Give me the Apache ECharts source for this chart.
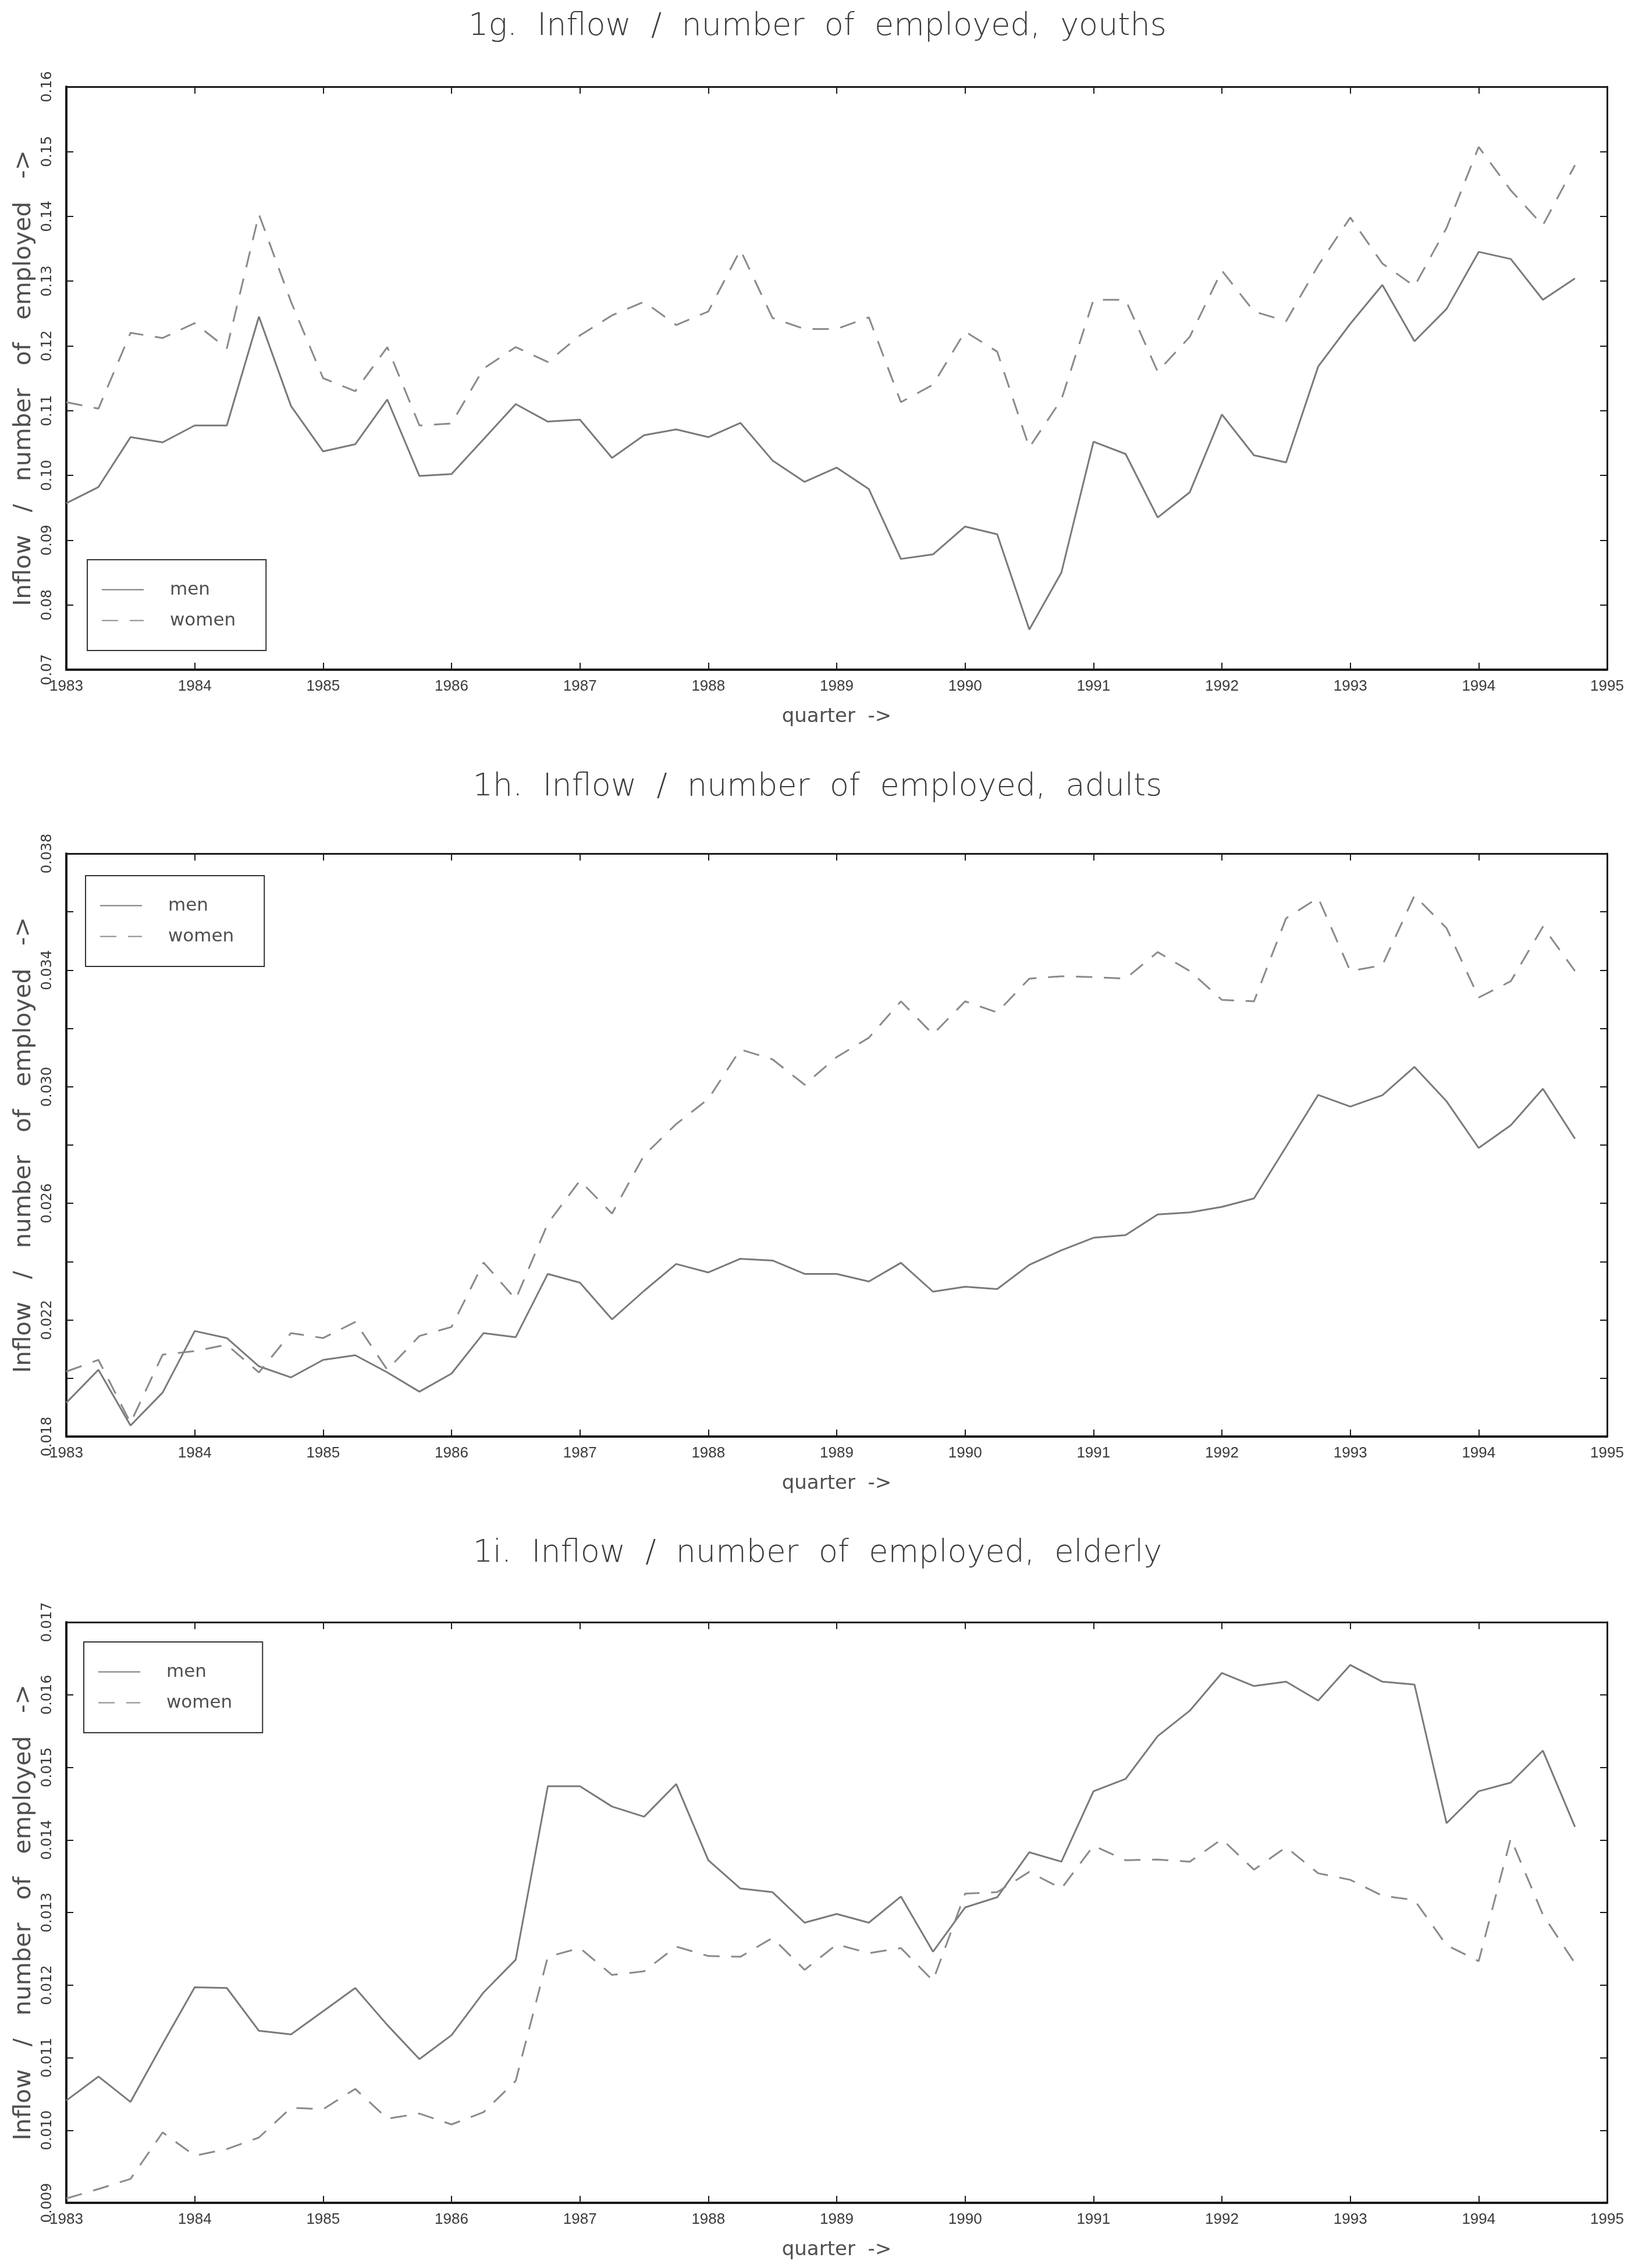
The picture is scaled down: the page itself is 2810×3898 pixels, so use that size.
<!DOCTYPE html>
<html>
<head>
<meta charset="utf-8">
<title>Inflow / number of employed</title>
<script src="https://cdn.jsdelivr.net/npm/echarts@6/dist/echarts.min.js"></script>
<style>
  html, body { margin: 0; padding: 0; background: #ffffff; }
  #chart { width: 2810px; height: 3898px; }
</style>
</head>
<body>
<div id="chart"></div>
<script>
// Quarterly observations, 1983 Q1 .. 1994 Q4
const quarters = [];
for (let i = 0; i < 48; i++) quarters.push(1983 + i / 4);

const yearLabels = ['1983', '1984', '1985', '1986', '1987', '1988', '1989',
                    '1990', '1991', '1992', '1993', '1994', '1995'];

// 1g. youths
const youthMen = [0.0957, 0.0982, 0.1059, 0.1051, 0.1077, 0.1077, 0.1245, 0.1107,
  0.1037, 0.1048, 0.1117, 0.0999, 0.1002, 0.1056, 0.1110, 0.1083,
  0.1086, 0.1027, 0.1062, 0.1071, 0.1059, 0.1081, 0.1023, 0.0990,
  0.1012, 0.0979, 0.0871, 0.0878, 0.0921, 0.0909, 0.0762, 0.0850,
  0.1052, 0.1033, 0.0935, 0.0974, 0.1094, 0.1031, 0.1020, 0.1168,
  0.1234, 0.1294, 0.1207, 0.1257, 0.1345, 0.1334, 0.1271, 0.1304];
const youthWomen = [0.1113, 0.1103, 0.1220, 0.1212, 0.1235, 0.1196, 0.1403, 0.1268,
  0.1150, 0.1130, 0.1198, 0.1077, 0.1080, 0.1165, 0.1198, 0.1175,
  0.1216, 0.1247, 0.1268, 0.1232, 0.1253, 0.1348, 0.1243, 0.1226,
  0.1226, 0.1244, 0.1113, 0.1140, 0.1222, 0.1191, 0.1043, 0.1117,
  0.1271, 0.1271, 0.1160, 0.1214, 0.1316, 0.1253, 0.1238, 0.1324,
  0.1398, 0.1327, 0.1292, 0.1382, 0.1507, 0.1440, 0.1386, 0.1479];
const youthTickLabels = ['0.07', '0.08', '0.09', '0.10', '0.11', '0.12', '0.13', '0.14', '0.15', '0.16'];

// 1h. adults
const adultMen = [0.01916, 0.02029, 0.01838, 0.01951, 0.02162, 0.02138, 0.02041, 0.02003,
  0.02063, 0.02079, 0.02020, 0.01954, 0.02016, 0.02155, 0.02141, 0.02358,
  0.02328, 0.02202, 0.02300, 0.02392, 0.02363, 0.02410, 0.02404, 0.02358,
  0.02358, 0.02332, 0.02396, 0.02297, 0.02314, 0.02306, 0.02389, 0.02439,
  0.02482, 0.02491, 0.02562, 0.02569, 0.02588, 0.02617, 0.02794, 0.02972,
  0.02932, 0.02971, 0.03068, 0.02950, 0.02790, 0.02868, 0.02993, 0.02822];
const adultWomen = [0.02023, 0.02063, 0.01847, 0.02081, 0.02093, 0.02115, 0.02020, 0.02155,
  0.02138, 0.02193, 0.02029, 0.02145, 0.02176, 0.02397, 0.02271, 0.02531,
  0.02678, 0.02565, 0.02765, 0.02872, 0.02958, 0.03128, 0.03094, 0.03007,
  0.03102, 0.03168, 0.03293, 0.03180, 0.03293, 0.03255, 0.03371, 0.03379,
  0.03376, 0.03371, 0.03462, 0.03397, 0.03298, 0.03293, 0.03578, 0.03648,
  0.03397, 0.03417, 0.03656, 0.03544, 0.03306, 0.03362, 0.03549, 0.03397];
const adultTickLabels = ['0.018', '0.022', '0.026', '0.030', '0.034', '0.038'];

// 1i. elderly
const elderlyMen = [0.01041, 0.01074, 0.01039, 0.01119, 0.01197, 0.01196, 0.01137, 0.01132,
  0.01164, 0.01196, 0.01145, 0.01098, 0.01131, 0.01190, 0.01235, 0.01474,
  0.01474, 0.01446, 0.01432, 0.01477, 0.01372, 0.01333, 0.01328, 0.01286,
  0.01298, 0.01286, 0.01322, 0.01246, 0.01307, 0.01321, 0.01383, 0.01370,
  0.01467, 0.01484, 0.01543, 0.01578, 0.01630, 0.01612, 0.01618, 0.01592,
  0.01641, 0.01618, 0.01614, 0.01423, 0.01467, 0.01479, 0.01523, 0.01418];
const elderlyWomen = [0.00906, 0.00919, 0.00933, 0.00997, 0.00965, 0.00974, 0.00990, 0.01031,
  0.01029, 0.01057, 0.01016, 0.01023, 0.01008, 0.01025, 0.01068, 0.01239,
  0.01251, 0.01214, 0.01219, 0.01253, 0.01240, 0.01239, 0.01265, 0.01221,
  0.01256, 0.01244, 0.01251, 0.01206, 0.01326, 0.01328, 0.01356, 0.01333,
  0.01392, 0.01372, 0.01373, 0.01370, 0.01401, 0.01359, 0.01390, 0.01354,
  0.01345, 0.01323, 0.01317, 0.01255, 0.01233, 0.01402, 0.01297, 0.01230];
const elderlyTickLabels = ['0.009', '0.010', '0.011', '0.012', '0.013', '0.014', '0.015', '0.016', '0.017'];

const seriesNames = ['men', 'women'];
const yAxisTitle = 'Inflow   /   number   of   employed   ->';
const xAxisTitle = 'quarter  ->';

const panels = [
  { title: '1g.  Inflow  /  number  of  employed,  youths', men: youthMen, women: youthWomen,
    min: 0.07, max: 0.16, step: 0.01, labels: youthTickLabels,
    top: 149, height: 1002, titleTop: 19, titleShift: 96, legendLeft: 150, legendTop: 962 },
  { title: '1h.  Inflow  /  number  of  employed,  adults', men: adultMen, women: adultWomen,
    min: 0.018, max: 0.038, step: 0.002, labels: adultTickLabels,
    top: 1467, height: 1002, titleTop: 1326, titleShift: 80, legendLeft: 147, legendTop: 1505 },
  { title: '1i.  Inflow  /  number  of  employed,  elderly', men: elderlyMen, women: elderlyWomen,
    min: 0.009, max: 0.017, step: 0.001, labels: elderlyTickLabels,
    top: 2788, height: 998, titleTop: 2643, titleShift: 84, legendLeft: 144, legendTop: 2822 }
];

const INK = '#1a1a1a';
const MEN_GREY = '#7a7a7a';
const WOMEN_GREY = '#8a8a8a';
const GRID_LEFT = 114;
const GRID_WIDTH = 2648;

const option = {
  backgroundColor: '#ffffff',
  animation: false,
  title: [], grid: [], xAxis: [], yAxis: [], series: [], legend: []
};

function labelFor(list) {
  return function (v) {
    for (const s of list) {
      if (Math.abs(parseFloat(s) - v) < 1e-7) return s;
    }
    return '';
  };
}

panels.forEach(function (p, k) {
  option.title.push({
    text: p.title,
    left: 'center',
    top: p.titleTop,
    padding: [0, 0, 0, p.titleShift],
    textStyle: { fontFamily: 'DejaVu Sans', fontWeight: 300, fontSize: 54, color: '#3c3c3c' }
  });

  option.grid.push({ left: GRID_LEFT, width: GRID_WIDTH, top: p.top, height: p.height });

  // bottom axis with year labels
  option.xAxis.push({
    type: 'value', gridIndex: k, position: 'bottom',
    min: 1983, max: 1995, interval: 1,
    name: xAxisTitle, nameLocation: 'middle', nameGap: 64,
    nameTextStyle: { fontFamily: 'DejaVu Sans', fontSize: 34, color: '#505050' },
    axisLine: { show: true, onZero: false, lineStyle: { color: INK, width: 4 } },
    axisTick: { show: true, inside: true, length: 12, lineStyle: { color: INK, width: 2 } },
    axisLabel: {
      show: true, margin: 16, fontFamily: 'Liberation Sans Narrow, Liberation Sans',
      fontSize: 26, color: '#3a3a3a',
      formatter: function (v) { return yearLabels[Math.round(v - 1983)]; }
    },
    splitLine: { show: false }
  });
  // top frame edge
  option.xAxis.push({
    type: 'value', gridIndex: k, position: 'top',
    min: 1983, max: 1995, interval: 1,
    axisLine: { show: true, onZero: false, lineStyle: { color: INK, width: 3 } },
    axisTick: { show: true, inside: true, length: 12, lineStyle: { color: INK, width: 2 } },
    axisLabel: { show: false },
    splitLine: { show: false }
  });

  // left axis with rotated tick labels
  option.yAxis.push({
    type: 'value', gridIndex: k, position: 'left',
    min: p.min, max: p.max, interval: p.step,
    name: yAxisTitle, nameLocation: 'middle', nameGap: 50, nameRotate: 90,
    nameTextStyle: { fontFamily: 'DejaVu Sans', fontSize: 41, color: '#505050' },
    axisLine: { show: true, onZero: false, lineStyle: { color: INK, width: 4 } },
    axisTick: { show: true, inside: true, length: 12, lineStyle: { color: INK, width: 2 } },
    axisLabel: {
      show: true, rotate: 90, margin: 20, fontFamily: 'DejaVu Sans',
      fontSize: 24, color: '#3a3a3a', formatter: labelFor(p.labels)
    },
    splitLine: { show: false }
  });
  // right frame edge
  option.yAxis.push({
    type: 'value', gridIndex: k, position: 'right',
    min: p.min, max: p.max, interval: p.step,
    axisLine: { show: true, onZero: false, lineStyle: { color: INK, width: 3 } },
    axisTick: { show: true, inside: true, length: 12, lineStyle: { color: INK, width: 2 } },
    axisLabel: { show: false },
    splitLine: { show: false }
  });

  option.series.push({
    name: seriesNames[0], type: 'line', xAxisIndex: 2 * k, yAxisIndex: 2 * k,
    data: quarters.map(function (t, i) { return [t, p.men[i]]; }),
    symbol: 'none', silent: true,
    lineStyle: { color: MEN_GREY, width: 3, type: 'solid' },
    itemStyle: { color: MEN_GREY }
  });
  option.series.push({
    name: seriesNames[1], type: 'line', xAxisIndex: 2 * k, yAxisIndex: 2 * k,
    data: quarters.map(function (t, i) { return [t, p.women[i]]; }),
    symbol: 'none', silent: true,
    lineStyle: { color: WOMEN_GREY, width: 3, type: [28, 20] },
    itemStyle: { color: WOMEN_GREY }
  });

  option.legend.push({
    data: seriesNames,
    orient: 'vertical',
    left: p.legendLeft, top: p.legendTop,
    padding: [36, 52, 36, 24],
    itemWidth: 72, itemHeight: 14, itemGap: 22,
    itemStyle: { opacity: 0 },
    borderColor: '#333333', borderWidth: 2, borderRadius: 0,
    backgroundColor: 'rgba(255,255,255,0)',
    selectedMode: false,
    textStyle: { fontFamily: 'DejaVu Sans', fontSize: 31, color: '#505050', padding: [0, 0, 0, 40] }
  });
});

const chart = echarts.init(document.getElementById('chart'), null, { renderer: 'canvas' });
chart.setOption(option);
</script>
</body>
</html>
